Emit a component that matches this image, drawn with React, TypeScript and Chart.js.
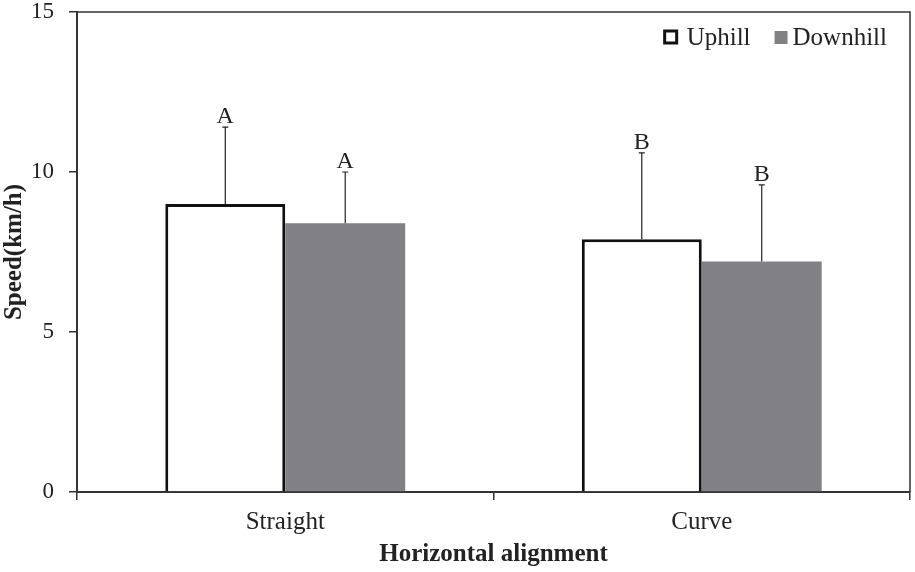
import { useEffect, useRef } from "react";
import { Chart, registerables } from "chart.js";

Chart.register(...registerables);

const categories = ["Straight", "Curve"];
const seriesNames = ["Uphill", "Downhill"];
const uphill = [9.0, 7.9];
const downhill = [8.4, 7.2];
const uphillErr = [2.4, 2.7];
const downhillErr = [1.6, 2.4];
const uphillLetters = ["A", "B"];
const downhillLetters = ["A", "B"];
const yTicks = [0, 5, 10, 15];

const FONT = "'Liberation Serif', 'Times New Roman', serif";
const AXIS = "#333333";
const GRAY = "#818185";

const errs = [uphillErr, downhillErr];
const letters = [uphillLetters, downhillLetters];

const errorBarPlugin = {
  id: "errorBars",
  afterDatasetsDraw(chart: any) {
    const ctx = chart.ctx;
    const y = chart.scales.y;
    chart.data.datasets.forEach((ds: any, i: number) => {
      const meta = chart.getDatasetMeta(i);
      meta.data.forEach((bar: any, j: number) => {
        const v = ds.data[j];
        const top = y.getPixelForValue(v + errs[i][j]);
        const base = y.getPixelForValue(v);
        ctx.save();
        ctx.strokeStyle = "#222";
        ctx.lineWidth = 1.2;
        ctx.beginPath();
        ctx.moveTo(bar.x, base);
        ctx.lineTo(bar.x, top);
        ctx.moveTo(bar.x - 3, top);
        ctx.lineTo(bar.x + 3, top);
        ctx.stroke();
        ctx.fillStyle = "#222";
        ctx.font = `24px ${FONT}`;
        ctx.textAlign = "center";
        ctx.textBaseline = "alphabetic";
        ctx.fillText(letters[i][j], bar.x, top - 4);
        ctx.restore();
      });
    });
  },
};

const framePlugin = {
  id: "frame",
  afterDraw(chart: any) {
    const { ctx, chartArea } = chart;
    ctx.save();
    ctx.strokeStyle = AXIS;
    ctx.lineWidth = 1.5;
    ctx.beginPath();
    ctx.moveTo(chartArea.left, chartArea.top);
    ctx.lineTo(chartArea.right, chartArea.top);
    ctx.lineTo(chartArea.right, chartArea.bottom);
    ctx.stroke();
    ctx.restore();
  },
};

const legendPlugin = {
  id: "customLegend",
  afterDraw(chart: any) {
    const { ctx, chartArea } = chart;
    ctx.save();
    ctx.font = `25px ${FONT}`;
    ctx.textBaseline = "middle";
    ctx.textAlign = "left";
    const cy = 38;
    const w1 = ctx.measureText(seriesNames[1]).width;
    const w0 = ctx.measureText(seriesNames[0]).width;
    let x = chartArea.right - 23 - w1;
    ctx.fillStyle = GRAY;
    ctx.fillRect(x - 18, cy - 7, 13, 13);
    ctx.fillStyle = "#222";
    ctx.fillText(seriesNames[1], x, cy);
    x = x - 18 - 24 - w0;
    ctx.fillText(seriesNames[0], x, cy);
    ctx.strokeStyle = "#111";
    ctx.lineWidth = 3;
    ctx.fillStyle = "#fff";
    ctx.fillRect(x - 22, cy - 7, 12, 12);
    ctx.strokeRect(x - 22, cy - 7, 12, 12);
    ctx.restore();
  },
};

export default function App() {
  const ref = useRef<HTMLCanvasElement>(null);
  useEffect(() => {
    if (!ref.current) return;
    const chart = new Chart(ref.current, {
      type: "bar",
      data: {
        labels: categories,
        datasets: [
          {
            label: seriesNames[0],
            data: uphill,
            backgroundColor: "#ffffff",
            borderColor: "#111111",
            borderWidth: 3,
            borderSkipped: "start",
            barPercentage: 1,
            categoryPercentage: 0.576,
          },
          {
            label: seriesNames[1],
            data: downhill,
            backgroundColor: GRAY,
            borderWidth: 0,
            barPercentage: 1,
            categoryPercentage: 0.576,
          },
        ],
      },
      options: {
        responsive: false,
        animation: false,
        devicePixelRatio: 1,
        layout: { padding: { top: 12, right: 5, left: 0, bottom: 0 } },
        plugins: {
          legend: { display: false },
          tooltip: { enabled: false },
        },
        scales: {
          x: {
            grid: {
              display: true,
              drawOnChartArea: false,
              drawTicks: true,
              tickLength: 8,
              color: AXIS,
              lineWidth: 1.5,
              offset: true,
            },
            border: { display: true, color: AXIS, width: 2 },
            ticks: {
              color: "#222",
              padding: 10,
              font: { family: FONT, size: 25, lineHeight: 1 },
            },
            title: {
              display: true,
              text: "Horizontal alignment",
              color: "#222",
              font: { family: FONT, size: 25, weight: "bold", lineHeight: 1.2 },
              padding: { top: 0, bottom: 2 },
            },
            afterFit(scale: any) {
              scale.height = 80;
              scale.paddingLeft = 0;
              scale.paddingRight = 0;
            },
          },
          y: {
            min: 0,
            max: 15,
            afterBuildTicks(scale: any) {
              scale.ticks = yTicks.map((v) => ({ value: v }));
            },
            grid: {
              display: true,
              drawOnChartArea: false,
              drawTicks: true,
              tickLength: 8,
              color: AXIS,
              lineWidth: 1.5,
            },
            border: { display: true, color: AXIS, width: 2 },
            ticks: {
              color: "#222",
              padding: 15,
              font: { family: FONT, size: 23, lineHeight: 1 },
            },
            title: {
              display: true,
              text: "Speed(km/h)",
              color: "#222",
              font: { family: FONT, size: 25, weight: "bold", lineHeight: 1.2 },
              padding: 0,
            },
            afterFit(scale: any) {
              scale.width = 77;
              scale.paddingTop = 0;
              scale.paddingBottom = 0;
            },
          },
        },
      },
      plugins: [errorBarPlugin, framePlugin, legendPlugin],
    });
    return () => chart.destroy();
  }, []);
  return (
    <div style={{ position: "absolute", left: 0, top: 0, width: 915, height: 572, background: "#fff" }}>
      <canvas ref={ref} width={915} height={572} />
    </div>
  );
}
